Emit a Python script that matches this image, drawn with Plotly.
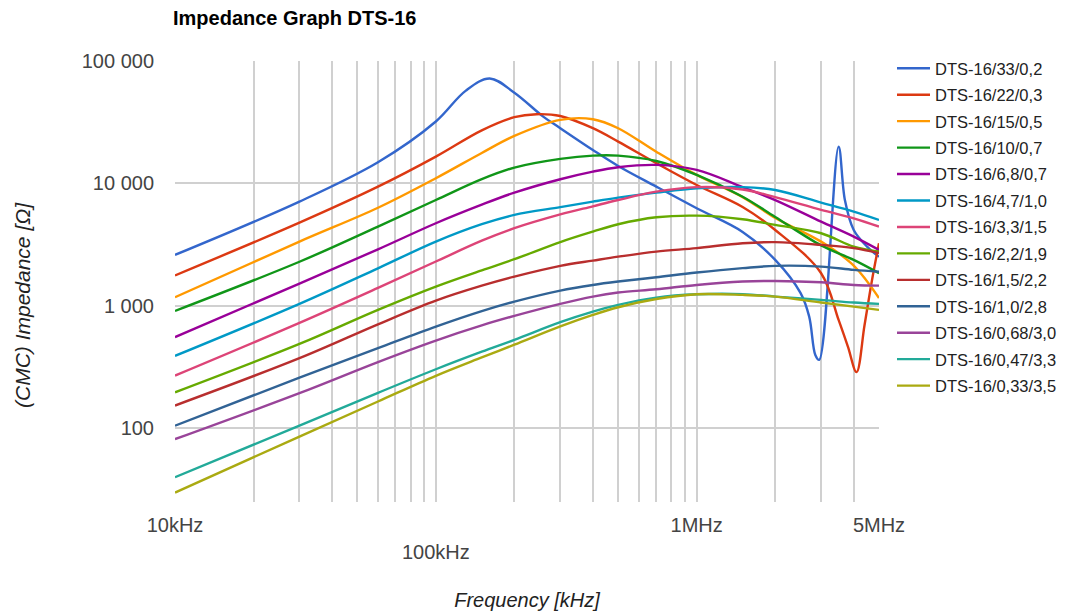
import math
import plotly.graph_objects as go

# ---------------- data (frequency in kHz, impedance in Ohm) ----------------
FREQ_KHZ = [10, 30, 60, 100, 150, 200, 300, 400, 500, 700, 1000, 1500, 2000, 3000, 4000, 5000]

BLUE_F = [10, 30, 60, 100, 130, 161, 200, 258, 300, 400, 500, 700, 1000,
          1500, 2000, 2500, 2700, 2850, 2950, 3500, 3700, 4000, 4500, 5000]
BLUE_Z = [2594, 7080, 14860, 32000, 57000, 72000, 55000, 35100, 28200,
          18700, 13840, 9380, 6250, 4000, 2360, 1268, 811, 394, 359, 19900, 7300,
          4150, 3030, 2500]

RED_F = [10, 30, 60, 100, 150, 200, 243, 300, 400, 500, 700, 1000, 1500, 2000, 3000,
         3500, 3800, 4100, 4400, 4700, 5000]
RED_Z = [1762, 4762, 9380, 16520, 27100, 34700, 36700, 35500, 28200, 21900, 14600, 9680,
         6400, 4150, 1837, 762, 461, 285, 690, 1610, 3230]

ORANGE_Z = [1169, 3330, 6300, 10990, 17700, 24400, 33000, 33400, 28200, 18100, 11700,
            7700, 5200, 3330, 2120, 1150]
GREEN_Z = [903, 2280, 4420, 7290, 10800, 13430, 15820, 16830, 16830, 15200, 11700,
           7760, 5300, 3100, 2360, 1837]
PURPLE_Z = [551, 1510, 2880, 4710, 6680, 8380, 10790, 12450, 13520, 14130, 12850,
            9300, 7290, 4850, 3660, 2850]
CYAN_Z = [387, 1031, 2015, 3330, 4625, 5510, 6380, 7080, 7630, 8380, 9100, 9300,
          8800, 6950, 5860, 5010]
PINK_Z = [267, 721, 1393, 2290, 3390, 4290, 5560, 6480, 7290, 8530, 9300, 8900,
          7700, 6050, 5170, 4420]
LGREEN_Z = [195, 485, 922, 1429, 1940, 2390, 3300, 4020, 4620, 5270, 5430, 5080,
            4560, 3900, 3030, 2760]
DRED_Z = [152, 371, 702, 1097, 1453, 1723, 2110, 2330, 2510, 2760, 2950, 3230,
          3300, 3130, 2945, 2680]
NAVY_Z = [104, 257, 448, 672, 900, 1076, 1325, 1473, 1570, 1703, 1860, 2020,
          2110, 2080, 1955, 1890]
VIOLET_Z = [80.7, 192, 345, 517, 688, 822, 1031, 1183, 1277, 1358, 1473, 1570,
            1588, 1548, 1473, 1455]
TEAL_Z = [39.4, 104, 193, 301, 419, 524, 730, 891, 1011, 1160, 1236, 1240,
          1183, 1111, 1057, 1031]
OLIVE_Z = [29.5, 84.7, 164, 266, 376, 478, 675, 838, 968, 1130, 1236, 1222,
           1183, 1057, 980, 920]

SERIES_NAMES = ["DTS-16/33/0,2", "DTS-16/22/0,3", "DTS-16/15/0,5", "DTS-16/10/0,7",
                "DTS-16/6,8/0,7", "DTS-16/4,7/1,0", "DTS-16/3,3/1,5", "DTS-16/2,2/1,9",
                "DTS-16/1,5/2,2", "DTS-16/1,0/2,8", "DTS-16/0,68/3,0", "DTS-16/0,47/3,3",
                "DTS-16/0,33/3,5"]
SERIES_COLORS = ["#3366cc", "#dc3912", "#ff9900", "#109618", "#990099", "#0099c6",
                 "#dd4477", "#66aa00", "#b82e2e", "#316395", "#994499", "#22aa99",
                 "#aaaa11"]

X_TICK_VALUES_HZ = [1e4, 1e6, 5e6]
X_TICK_LABELS = ["10kHz", "1MHz", "5MHz"]
X_TICK2_VALUES_HZ = [1e5]
X_TICK2_LABELS = ["100kHz"]
Y_TICK_VALUES = [100, 1000, 10000, 100000]
Y_TICK_LABELS = ["100", "1 000", "10 000", "100 000"]

series = [
    (BLUE_F, BLUE_Z), (RED_F, RED_Z), (FREQ_KHZ, ORANGE_Z), (FREQ_KHZ, GREEN_Z),
    (FREQ_KHZ, PURPLE_Z), (FREQ_KHZ, CYAN_Z), (FREQ_KHZ, PINK_Z), (FREQ_KHZ, LGREEN_Z),
    (FREQ_KHZ, DRED_Z), (FREQ_KHZ, NAVY_Z), (FREQ_KHZ, VIOLET_Z), (FREQ_KHZ, TEAL_Z),
    (FREQ_KHZ, OLIVE_Z),
]

FONT = "Liberation Sans, Arial, sans-serif"
W, H = 1057, 605
ML, MR, MT, MB = 167, 186, 53, 111

fig = go.Figure()
for i, ((fk, z), name, color) in enumerate(zip(series, SERIES_NAMES, SERIES_COLORS)):
    fig.add_trace(go.Scatter(
        x=[f * 1000 for f in fk], y=z, name=name, mode="lines",
        line=dict(color=color, width=2.4, shape="spline", smoothing=1.0),
        legendgroup=f"g{i}", hoverinfo="skip",
    ))

# dummy trace so the overlay axis (second tick-label row) is drawn
fig.add_trace(go.Scatter(x=[1e5], y=[None], xaxis="x2", showlegend=False,
                         hoverinfo="skip", mode="lines"))

# grid positions: every 1..9 multiple within the range
grid_vals = []
for dec in [1e4, 1e5, 1e6]:
    for m in range(1, 10):
        v = m * dec
        if v <= 5e6:
            grid_vals.append(v)

x_range = [4, math.log10(5e6)]
y_range = [math.log10(24.7), 5]

plot_w = W - ML - MR
plot_h = H - MT - MB

fig.update_layout(
    width=W, height=H,
    margin=dict(l=ML, r=MR, t=MT, b=MB, autoexpand=False),
    paper_bgcolor="white", plot_bgcolor="white",
    font=dict(family=FONT, color="#444444"),
    title=dict(text="<b>Impedance Graph DTS-16</b>", x=165 / W, xref="container",
               xanchor="left", y=1 - 10 / H, yref="container", yanchor="middle",
               font=dict(family=FONT, size=20, color="#000000")),
    showlegend=True,
    legend=dict(x=884 / W, y=1 - 43 / H, xref="container", yref="container",
                xanchor="left", yanchor="top", maxheight=500, itemwidth=33,
                font=dict(family=FONT, size=16.5, color="#222222"),
                tracegroupgap=2.0, bgcolor="rgba(0,0,0,0)"),
    xaxis=dict(type="log", range=x_range, showgrid=True, gridcolor="#d0d0d0",
               gridwidth=1.5, zeroline=False, showline=False, automargin=False,
               tickmode="array", tickvals=grid_vals,
               ticktext=[X_TICK_LABELS[X_TICK_VALUES_HZ.index(v)] if v in X_TICK_VALUES_HZ else ""
                         for v in grid_vals],
               tickfont=dict(family=FONT, size=20, color="#444444"),
               ticks="", ticklabelstandoff=9,
               title=dict(text="<i>Frequency [kHz]</i>", standoff=57,
                          font=dict(family=FONT, size=20, color="#222222"))),
    xaxis2=dict(type="log", range=x_range, overlaying="x", side="bottom", anchor="y",
                showgrid=False, zeroline=False, showline=False, automargin=False,
                tickmode="array", tickvals=X_TICK2_VALUES_HZ, ticktext=X_TICK2_LABELS,
                tickfont=dict(family=FONT, size=20, color="#444444"),
                ticks="", ticklabelstandoff=36),
    yaxis=dict(type="log", range=y_range, showgrid=True, gridcolor="#d0d0d0",
               gridwidth=1.5, zeroline=False, showline=False, automargin=False,
               tickmode="array", tickvals=Y_TICK_VALUES, ticktext=Y_TICK_LABELS,
               tickfont=dict(family=FONT, size=20, color="#444444"),
               ticks="", ticklabelstandoff=20),
    annotations=[dict(text="<i>(CMC) Impedance [Ω]</i>", textangle=-90,
                      xref="paper", yref="paper",
                      x=(14 - ML) / plot_w, y=(H - MB - 297) / plot_h,
                      xanchor="center", yanchor="middle", showarrow=False,
                      font=dict(family=FONT, size=21, color="#222222"))],
)

fig.write_html("out.html")
